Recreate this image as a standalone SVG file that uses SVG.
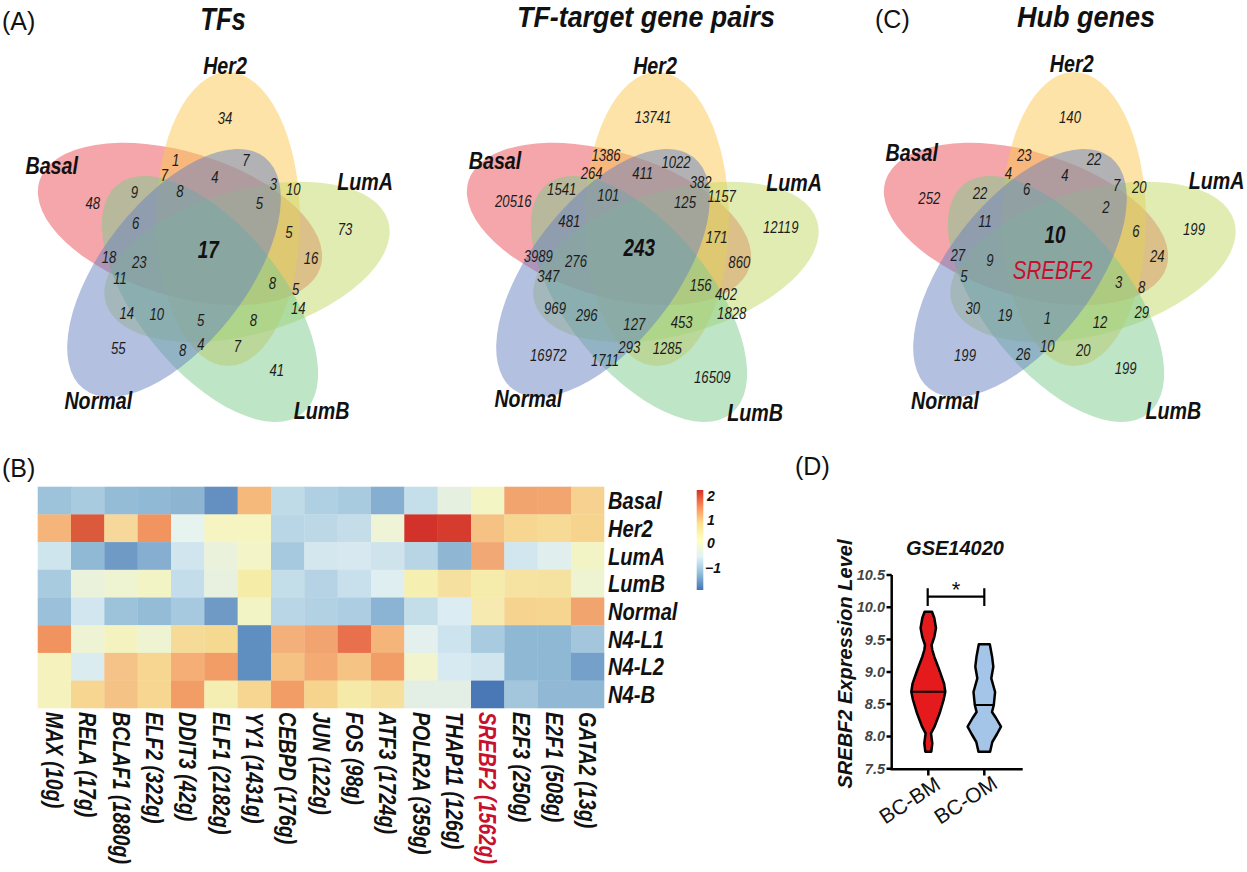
<svg xmlns="http://www.w3.org/2000/svg" width="1247" height="872" viewBox="0 0 1247 872">
<style>
text{font-family:"Liberation Sans",Arial,sans-serif;fill:#111}
.num{font-size:16px;font-style:italic;text-anchor:middle;fill:#1c1c1c}
.big{font-size:23px;font-weight:bold;font-style:italic;text-anchor:middle}
.lab{font-size:24px;font-weight:bold;font-style:italic;text-anchor:middle}
.ttl{font-size:30px;font-weight:bold;font-style:italic;text-anchor:middle}
.pl{font-size:25px}
.col{font-size:24px;font-weight:bold;font-style:italic}
.row{font-size:24px;font-weight:bold;font-style:italic}
.cbl{font-size:14px;font-weight:bold;font-style:italic}
.tk{font-size:14.5px;font-weight:bold;font-style:italic;text-anchor:end;fill:#444}
.ell ellipse{fill-opacity:.5;stroke:none}
.ax{stroke:#000;stroke-width:2.5;fill:none}
.vio{stroke:#000;stroke-width:2.5;stroke-linejoin:round}
</style>
<defs>
<g id="ells" class="ell">
<ellipse cx="180" cy="224" rx="147" ry="72" transform="rotate(17 180 224)" fill="#e94d55"/>
<ellipse cx="228" cy="219" rx="72" ry="147" fill="#fbc74f"/>
<ellipse cx="247" cy="262" rx="147" ry="72" transform="rotate(-16 247 262)" fill="#c3d967"/>
<ellipse cx="210" cy="299" rx="147" ry="72" transform="rotate(51 210 299)" fill="#7bcb8d"/>
<ellipse cx="174" cy="273" rx="147" ry="72" transform="rotate(-52 174 273)" fill="#6781c1"/>
</g>
<linearGradient id="cb" x1="0" y1="1" x2="0" y2="0">
<stop offset="0" stop-color="#4575b4"/><stop offset=".167" stop-color="#91bfdb"/><stop offset=".333" stop-color="#e0f3f8"/><stop offset=".5" stop-color="#ffffbf"/><stop offset=".667" stop-color="#fee090"/><stop offset=".833" stop-color="#fc8d59"/><stop offset="1" stop-color="#d73027"/>
</linearGradient>
</defs>
<rect width="1247" height="872" fill="#fff"/>

<!-- Panel labels -->
<text class="pl" x="2" y="30">(A)</text>
<text class="pl" x="875" y="28">(C)</text>
<text class="pl" x="2" y="477">(B)</text>
<text class="pl" x="795" y="475">(D)</text>

<!-- Venn A -->
<g id="vennA">
<use href="#ells"/>
<text class="ttl" transform="translate(223,30) scale(.8,1)" style="font-size:32px">TFs</text>
<text class="lab" transform="translate(225,73.6) scale(.82,1)">Her2</text>
<text class="lab" transform="translate(51.7,173.6) scale(.82,1)">Basal</text>
<text class="lab" transform="translate(365,190.3) scale(.82,1)">LumA</text>
<text class="lab" transform="translate(98.3,408.6) scale(.82,1)">Normal</text>
<text class="lab" transform="translate(321.7,418.6) scale(.82,1)">LumB</text>
<text class="num" transform="translate(225,124) scale(.82,1)">34</text>
<text class="num" transform="translate(175.7,166) scale(.82,1)">1</text>
<text class="num" transform="translate(246,166) scale(.82,1)">7</text>
<text class="num" transform="translate(164.3,181) scale(.82,1)">7</text>
<text class="num" transform="translate(215,182.7) scale(.82,1)">4</text>
<text class="num" transform="translate(273.3,190) scale(.82,1)">3</text>
<text class="num" transform="translate(293.3,195.3) scale(.82,1)">10</text>
<text class="num" transform="translate(134.3,197.7) scale(.82,1)">9</text>
<text class="num" transform="translate(180,197) scale(.82,1)">8</text>
<text class="num" transform="translate(92.7,208.7) scale(.82,1)">48</text>
<text class="num" transform="translate(259.3,209.3) scale(.82,1)">5</text>
<text class="num" transform="translate(135.7,228.7) scale(.82,1)">6</text>
<text class="num" transform="translate(345,235) scale(.82,1)">73</text>
<text class="num" transform="translate(289,238.3) scale(.82,1)">5</text>
<text class="big" transform="translate(208.3,257.5) scale(.82,1)">17</text>
<text class="num" transform="translate(109,262.7) scale(.82,1)">18</text>
<text class="num" transform="translate(139.3,268.3) scale(.82,1)">23</text>
<text class="num" transform="translate(311,263.7) scale(.82,1)">16</text>
<text class="num" transform="translate(120,283.7) scale(.82,1)">11</text>
<text class="num" transform="translate(272.3,288.7) scale(.82,1)">8</text>
<text class="num" transform="translate(295.7,295.3) scale(.82,1)">5</text>
<text class="num" transform="translate(298.3,314.3) scale(.82,1)">14</text>
<text class="num" transform="translate(126.7,319.3) scale(.82,1)">14</text>
<text class="num" transform="translate(156.7,320) scale(.82,1)">10</text>
<text class="num" transform="translate(200.7,326) scale(.82,1)">5</text>
<text class="num" transform="translate(253.3,326) scale(.82,1)">8</text>
<text class="num" transform="translate(118.3,354.3) scale(.82,1)">55</text>
<text class="num" transform="translate(182.7,356) scale(.82,1)">8</text>
<text class="num" transform="translate(201,350.3) scale(.82,1)">4</text>
<text class="num" transform="translate(237.3,352) scale(.82,1)">7</text>
<text class="num" transform="translate(276.7,376) scale(.82,1)">41</text>
</g>

<!-- Venn pairs -->
<g id="vennPairs">
<use href="#ells" x="429"/>
<text class="ttl" transform="translate(646,27) scale(.895,1)">TF-target gene pairs</text>
<text class="lab" transform="translate(655,73.6) scale(.82,1)">Her2</text>
<text class="lab" transform="translate(495,168.6) scale(.82,1)">Basal</text>
<text class="lab" transform="translate(794,190.6) scale(.82,1)">LumA</text>
<text class="lab" transform="translate(528.3,406.6) scale(.82,1)">Normal</text>
<text class="lab" transform="translate(755,420.6) scale(.82,1)">LumB</text>
<text class="num" transform="translate(653,123) scale(.82,1)">13741</text>
<text class="num" transform="translate(606,161) scale(.82,1)">1386</text>
<text class="num" transform="translate(676,168) scale(.82,1)">1022</text>
<text class="num" transform="translate(591.7,178.7) scale(.82,1)">264</text>
<text class="num" transform="translate(642.7,178.7) scale(.82,1)">411</text>
<text class="num" transform="translate(700.7,188) scale(.82,1)">382</text>
<text class="num" transform="translate(721.7,202) scale(.82,1)">1157</text>
<text class="num" transform="translate(561.7,195.3) scale(.82,1)">1541</text>
<text class="num" transform="translate(608.3,201) scale(.82,1)">101</text>
<text class="num" transform="translate(513.3,206.7) scale(.82,1)">20516</text>
<text class="num" transform="translate(685,207.7) scale(.82,1)">125</text>
<text class="num" transform="translate(569.3,226.7) scale(.82,1)">481</text>
<text class="num" transform="translate(780.7,233.3) scale(.82,1)">12119</text>
<text class="num" transform="translate(716.7,242.7) scale(.82,1)">171</text>
<text class="big" transform="translate(639.3,256.3) scale(.82,1)">243</text>
<text class="num" transform="translate(538.3,262) scale(.82,1)">3989</text>
<text class="num" transform="translate(576,266.7) scale(.82,1)">276</text>
<text class="num" transform="translate(739.3,267.7) scale(.82,1)">860</text>
<text class="num" transform="translate(548.3,282) scale(.82,1)">347</text>
<text class="num" transform="translate(700.7,291) scale(.82,1)">156</text>
<text class="num" transform="translate(726,300) scale(.82,1)">402</text>
<text class="num" transform="translate(731.7,318.7) scale(.82,1)">1828</text>
<text class="num" transform="translate(555,314.3) scale(.82,1)">969</text>
<text class="num" transform="translate(586.7,321) scale(.82,1)">296</text>
<text class="num" transform="translate(634.3,330) scale(.82,1)">127</text>
<text class="num" transform="translate(681.7,327.7) scale(.82,1)">453</text>
<text class="num" transform="translate(629.3,352.7) scale(.82,1)">293</text>
<text class="num" transform="translate(667.3,354.3) scale(.82,1)">1285</text>
<text class="num" transform="translate(548.3,361) scale(.82,1)">16972</text>
<text class="num" transform="translate(605,366) scale(.82,1)">1711</text>
<text class="num" transform="translate(712.3,382.7) scale(.82,1)">16509</text>
</g>

<!-- Venn hub -->
<g id="vennHub">
<use href="#ells" x="846"/>
<text class="ttl" transform="translate(1086,27) scale(.9,1)">Hub genes</text>
<text class="lab" transform="translate(1071.7,71.6) scale(.82,1)">Her2</text>
<text class="lab" transform="translate(911.7,160.6) scale(.82,1)">Basal</text>
<text class="lab" transform="translate(1216.7,188.6) scale(.82,1)">LumA</text>
<text class="lab" transform="translate(945,408.6) scale(.82,1)">Normal</text>
<text class="lab" transform="translate(1173.3,418.6) scale(.82,1)">LumB</text>
<text class="num" transform="translate(1070,123) scale(.82,1)">140</text>
<text class="num" transform="translate(1024.3,161) scale(.82,1)">23</text>
<text class="num" transform="translate(1094,165.3) scale(.82,1)">22</text>
<text class="num" transform="translate(1008.3,179.3) scale(.82,1)">4</text>
<text class="num" transform="translate(1065,181) scale(.82,1)">4</text>
<text class="num" transform="translate(1116.7,191) scale(.82,1)">7</text>
<text class="num" transform="translate(1139.3,193.3) scale(.82,1)">20</text>
<text class="num" transform="translate(980,198.7) scale(.82,1)">22</text>
<text class="num" transform="translate(1026.7,195.3) scale(.82,1)">6</text>
<text class="num" transform="translate(929.3,204.3) scale(.82,1)">252</text>
<text class="num" transform="translate(1106,213.3) scale(.82,1)">2</text>
<text class="num" transform="translate(985,226.7) scale(.82,1)">11</text>
<text class="num" transform="translate(1194,235.3) scale(.82,1)">199</text>
<text class="num" transform="translate(1136,236.7) scale(.82,1)">6</text>
<text class="big" transform="translate(1055,243) scale(.82,1)">10</text>
<text class="num" transform="translate(957.7,261) scale(.82,1)">27</text>
<text class="num" transform="translate(990,266) scale(.82,1)">9</text>
<text transform="translate(1052.7,279) scale(.82,1)" style="font-size:25px;font-style:italic;text-anchor:middle;fill:#c8102e">SREBF2</text>
<text class="num" transform="translate(1157.3,262) scale(.82,1)">24</text>
<text class="num" transform="translate(964,282) scale(.82,1)">5</text>
<text class="num" transform="translate(1118.7,287.7) scale(.82,1)">3</text>
<text class="num" transform="translate(1141.7,293.3) scale(.82,1)">8</text>
<text class="num" transform="translate(972.7,314.3) scale(.82,1)">30</text>
<text class="num" transform="translate(1005,321) scale(.82,1)">19</text>
<text class="num" transform="translate(1047.3,324.3) scale(.82,1)">1</text>
<text class="num" transform="translate(1100,327.7) scale(.82,1)">12</text>
<text class="num" transform="translate(1141.7,317.7) scale(.82,1)">29</text>
<text class="num" transform="translate(1047.3,352) scale(.82,1)">10</text>
<text class="num" transform="translate(1083.3,356) scale(.82,1)">20</text>
<text class="num" transform="translate(965,361) scale(.82,1)">199</text>
<text class="num" transform="translate(1023.3,360) scale(.82,1)">26</text>
<text class="num" transform="translate(1125.7,374.3) scale(.82,1)">199</text>
</g>

<!-- Heatmap -->
<g id="heatmap">
<g transform="translate(0,486.7)">
<rect x="37.7" width="33.6" height="28" fill="#9cc3da"/><rect x="71" width="33.6" height="28" fill="#a9cbe0"/><rect x="104.3" width="33.6" height="28" fill="#94bcd6"/><rect x="137.7" width="33.6" height="28" fill="#8fb9d4"/><rect x="171" width="33.6" height="28" fill="#8db5d1"/><rect x="204.3" width="33.6" height="28" fill="#6390c1"/><rect x="237.7" width="33.6" height="28" fill="#f5b97b"/><rect x="271" width="33.6" height="28" fill="#c0dbe8"/><rect x="304.3" width="33.6" height="28" fill="#afd0e3"/><rect x="337.7" width="33.6" height="28" fill="#a9cbe0"/><rect x="371" width="33.6" height="28" fill="#85aed0"/><rect x="404.3" width="33.6" height="28" fill="#c5dfea"/><rect x="437.7" width="33.6" height="28" fill="#e6f0e0"/><rect x="471" width="33.6" height="28" fill="#f3f5c5"/><rect x="504.3" width="33.6" height="28" fill="#f2a46f"/><rect x="537.7" width="33.6" height="28" fill="#f3a56f"/><rect x="571" width="33.3" height="28" fill="#f6d18f"/>
</g>
<g transform="translate(0,514.4)">
<rect x="37.7" width="33.6" height="28" fill="#f4b47a"/><rect x="71" width="33.6" height="28" fill="#dc5a3c"/><rect x="104.3" width="33.6" height="28" fill="#f6d89a"/><rect x="137.7" width="33.6" height="28" fill="#f1945f"/><rect x="171" width="33.6" height="28" fill="#e6f3ee"/><rect x="204.3" width="33.6" height="28" fill="#f6f4c1"/><rect x="237.7" width="33.6" height="28" fill="#f6f4c1"/><rect x="271" width="33.6" height="28" fill="#b9d6e6"/><rect x="304.3" width="33.6" height="28" fill="#bcd8e6"/><rect x="337.7" width="33.6" height="28" fill="#c4dde8"/><rect x="371" width="33.6" height="28" fill="#eef4d5"/><rect x="404.3" width="33.6" height="28" fill="#d2322a"/><rect x="437.7" width="33.6" height="28" fill="#d63c2e"/><rect x="471" width="33.6" height="28" fill="#f5c283"/><rect x="504.3" width="33.6" height="28" fill="#f6d690"/><rect x="537.7" width="33.6" height="28" fill="#f6da96"/><rect x="571" width="33.3" height="28" fill="#f6d48e"/>
</g>
<g transform="translate(0,542.1)">
<rect x="37.7" width="33.6" height="28" fill="#cfe5ee"/><rect x="71" width="33.6" height="28" fill="#90b9d5"/><rect x="104.3" width="33.6" height="28" fill="#6f9ac6"/><rect x="137.7" width="33.6" height="28" fill="#85aed1"/><rect x="171" width="33.6" height="28" fill="#d0e5ee"/><rect x="204.3" width="33.6" height="28" fill="#ebf2dc"/><rect x="237.7" width="33.6" height="28" fill="#f3f5c8"/><rect x="271" width="33.6" height="28" fill="#a7c9df"/><rect x="304.3" width="33.6" height="28" fill="#d4e7ef"/><rect x="337.7" width="33.6" height="28" fill="#d7e8f0"/><rect x="371" width="33.6" height="28" fill="#cfe3ed"/><rect x="404.3" width="33.6" height="28" fill="#b8d5e5"/><rect x="437.7" width="33.6" height="28" fill="#8fb7d4"/><rect x="471" width="33.6" height="28" fill="#f2a874"/><rect x="504.3" width="33.6" height="28" fill="#d2e6ef"/><rect x="537.7" width="33.6" height="28" fill="#e0eeee"/><rect x="571" width="33.3" height="28" fill="#f3f4c6"/>
</g>
<g transform="translate(0,569.8)">
<rect x="37.7" width="33.6" height="28" fill="#a9cbe0"/><rect x="71" width="33.6" height="28" fill="#eaf2dc"/><rect x="104.3" width="33.6" height="28" fill="#eef3d2"/><rect x="137.7" width="33.6" height="28" fill="#f3f4c6"/><rect x="171" width="33.6" height="28" fill="#c3ddea"/><rect x="204.3" width="33.6" height="28" fill="#e8f1e0"/><rect x="237.7" width="33.6" height="28" fill="#f5eca8"/><rect x="271" width="33.6" height="28" fill="#c3dde9"/><rect x="304.3" width="33.6" height="28" fill="#b5d3e4"/><rect x="337.7" width="33.6" height="28" fill="#c8e0eb"/><rect x="371" width="33.6" height="28" fill="#dfeef0"/><rect x="404.3" width="33.6" height="28" fill="#f5efb2"/><rect x="437.7" width="33.6" height="28" fill="#f6e0a0"/><rect x="471" width="33.6" height="28" fill="#f5ecac"/><rect x="504.3" width="33.6" height="28" fill="#f6e3a2"/><rect x="537.7" width="33.6" height="28" fill="#f5e2a0"/><rect x="571" width="33.3" height="28" fill="#eef3d2"/>
</g>
<g transform="translate(0,597.5)">
<rect x="37.7" width="33.6" height="28" fill="#9ac0da"/><rect x="71" width="33.6" height="28" fill="#d1e6ef"/><rect x="104.3" width="33.6" height="28" fill="#9dc3db"/><rect x="137.7" width="33.6" height="28" fill="#95bcd7"/><rect x="171" width="33.6" height="28" fill="#a7c9df"/><rect x="204.3" width="33.6" height="28" fill="#6f9ac6"/><rect x="237.7" width="33.6" height="28" fill="#f3f4c6"/><rect x="271" width="33.6" height="28" fill="#b9d6e6"/><rect x="304.3" width="33.6" height="28" fill="#b2d1e3"/><rect x="337.7" width="33.6" height="28" fill="#adcee2"/><rect x="371" width="33.6" height="28" fill="#8bb3d3"/><rect x="404.3" width="33.6" height="28" fill="#c3dde9"/><rect x="437.7" width="33.6" height="28" fill="#dbedf2"/><rect x="471" width="33.6" height="28" fill="#f6eab0"/><rect x="504.3" width="33.6" height="28" fill="#f6d490"/><rect x="537.7" width="33.6" height="28" fill="#f5d590"/><rect x="571" width="33.3" height="28" fill="#f2a46e"/>
</g>
<g transform="translate(0,625.2)">
<rect x="37.7" width="33.6" height="28" fill="#f1935f"/><rect x="71" width="33.6" height="28" fill="#eef3d4"/><rect x="104.3" width="33.6" height="28" fill="#f4f3bf"/><rect x="137.7" width="33.6" height="28" fill="#eef3d2"/><rect x="171" width="33.6" height="28" fill="#f6db98"/><rect x="204.3" width="33.6" height="28" fill="#f6d990"/><rect x="237.7" width="33.6" height="28" fill="#5f8ec0"/><rect x="271" width="33.6" height="28" fill="#f4b07a"/><rect x="304.3" width="33.6" height="28" fill="#f2a470"/><rect x="337.7" width="33.6" height="28" fill="#e8704d"/><rect x="371" width="33.6" height="28" fill="#f4b47a"/><rect x="404.3" width="33.6" height="28" fill="#e3f0ee"/><rect x="437.7" width="33.6" height="28" fill="#cde3ed"/><rect x="471" width="33.6" height="28" fill="#a9cbe0"/><rect x="504.3" width="33.6" height="28" fill="#8fb8d4"/><rect x="537.7" width="33.6" height="28" fill="#8fb8d4"/><rect x="571" width="33.3" height="28" fill="#a3c6dd"/>
</g>
<g transform="translate(0,652.9)">
<rect x="37.7" width="33.6" height="28" fill="#f5f2bd"/><rect x="71" width="33.6" height="28" fill="#dbecf0"/><rect x="104.3" width="33.6" height="28" fill="#f5c287"/><rect x="137.7" width="33.6" height="28" fill="#f6d690"/><rect x="171" width="33.6" height="28" fill="#f4ae76"/><rect x="204.3" width="33.6" height="28" fill="#f29d66"/><rect x="237.7" width="33.6" height="28" fill="#5f8ec0"/><rect x="271" width="33.6" height="28" fill="#f5c283"/><rect x="304.3" width="33.6" height="28" fill="#f3aa73"/><rect x="337.7" width="33.6" height="28" fill="#f5c485"/><rect x="371" width="33.6" height="28" fill="#f29d66"/><rect x="404.3" width="33.6" height="28" fill="#f1f4cd"/><rect x="437.7" width="33.6" height="28" fill="#d8eaf1"/><rect x="471" width="33.6" height="28" fill="#d0e5ee"/><rect x="504.3" width="33.6" height="28" fill="#8fb8d4"/><rect x="537.7" width="33.6" height="28" fill="#8fb8d4"/><rect x="571" width="33.3" height="28" fill="#74a0c9"/>
</g>
<g transform="translate(0,680.6)">
<rect x="37.7" width="33.6" height="27.7" fill="#f5f2bd"/><rect x="71" width="33.6" height="27.7" fill="#f6d690"/><rect x="104.3" width="33.6" height="27.7" fill="#f5c286"/><rect x="137.7" width="33.6" height="27.7" fill="#f6d690"/><rect x="171" width="33.6" height="27.7" fill="#f29d66"/><rect x="204.3" width="33.6" height="27.7" fill="#f5eeb2"/><rect x="237.7" width="33.6" height="27.7" fill="#f6d690"/><rect x="271" width="33.6" height="27.7" fill="#f29d66"/><rect x="304.3" width="33.6" height="27.7" fill="#f6d48e"/><rect x="337.7" width="33.6" height="27.7" fill="#f5eaa8"/><rect x="371" width="33.6" height="27.7" fill="#f6e09e"/><rect x="404.3" width="33.6" height="27.7" fill="#e3eee4"/><rect x="437.7" width="33.6" height="27.7" fill="#e3eee4"/><rect x="471" width="33.6" height="27.7" fill="#4a78b6"/><rect x="504.3" width="33.6" height="27.7" fill="#a3c6dd"/><rect x="537.7" width="33.6" height="27.7" fill="#91b9d5"/><rect x="571" width="33.3" height="27.7" fill="#91b9d5"/>
</g>
<text class="row" transform="translate(608,509) scale(.84,1)">Basal</text>
<text class="row" transform="translate(608,537) scale(.84,1)">Her2</text>
<text class="row" transform="translate(608,564.5) scale(.84,1)">LumA</text>
<text class="row" transform="translate(608,592) scale(.84,1)">LumB</text>
<text class="row" transform="translate(608,620) scale(.84,1)">Normal</text>
<text class="row" transform="translate(608,647.5) scale(.84,1)">N4-L1</text>
<text class="row" transform="translate(608,675) scale(.84,1)">N4-L2</text>
<text class="row" transform="translate(608,703) scale(.84,1)">N4-B</text>
<text class="col" transform="translate(45.8,712) rotate(90) scale(.82,1)">MAX (10g)</text>
<text class="col" transform="translate(79.1,712) rotate(90) scale(.82,1)">RELA (17g)</text>
<text class="col" transform="translate(112.5,712) rotate(90) scale(.82,1)">BCLAF1 (1880g)</text>
<text class="col" transform="translate(145.8,712) rotate(90) scale(.82,1)">ELF2 (322g)</text>
<text class="col" transform="translate(179.1,712) rotate(90) scale(.82,1)">DDIT3 (42g)</text>
<text class="col" transform="translate(212.5,712) rotate(90) scale(.82,1)">ELF1 (2182g)</text>
<text class="col" transform="translate(245.8,712) rotate(90) scale(.82,1)">YY1 (1431g)</text>
<text class="col" transform="translate(279.1,712) rotate(90) scale(.82,1)">CEBPD (176g)</text>
<text class="col" transform="translate(312.5,712) rotate(90) scale(.82,1)">JUN (122g)</text>
<text class="col" transform="translate(345.8,712) rotate(90) scale(.82,1)">FOS (98g)</text>
<text class="col" transform="translate(379.1,712) rotate(90) scale(.82,1)">ATF3 (1724g)</text>
<text class="col" transform="translate(412.5,712) rotate(90) scale(.82,1)">POLR2A (359g)</text>
<text class="col" transform="translate(445.8,712) rotate(90) scale(.82,1)">THAP11 (126g)</text>
<text class="col" transform="translate(479.1,712) rotate(90) scale(.82,1)" style="fill:#c8102e">SREBF2 (1562g)</text>
<text class="col" transform="translate(512.5,712) rotate(90) scale(.82,1)">E2F3 (250g)</text>
<text class="col" transform="translate(545.8,712) rotate(90) scale(.82,1)">E2F1 (508g)</text>
<text class="col" transform="translate(579.1,712) rotate(90) scale(.82,1)">GATA2 (13g)</text>
<rect x="696.7" y="490" width="6.6" height="100" fill="url(#cb)"/>
<text class="cbl" x="707" y="501">2</text>
<text class="cbl" x="707" y="525">1</text>
<text class="cbl" x="707" y="548">0</text>
<text class="cbl" x="705" y="573">−1</text>
</g>

<!-- Violin plot -->
<g id="violin">
<text transform="translate(955,555)" style="font-size:20px;font-weight:bold;font-style:italic;text-anchor:middle">GSE14020</text>
<text transform="translate(852,664) rotate(-90)" style="font-size:20px;font-weight:bold;font-style:italic;text-anchor:middle">SREBF2 Expression Level</text>
<path class="ax" d="M891.7 575V769.3H1022.7M886.5 575H891.7M886.5 607.3H891.7M886.5 639.6H891.7M886.5 671.9H891.7M886.5 704.1H891.7M886.5 736.4H891.7M886.5 768.7H891.7M928.3 769.3V775.5M984.3 769.3V775.5"/>
<text class="tk" x="885" y="580">10.5</text>
<text class="tk" x="885" y="612.3">10.0</text>
<text class="tk" x="885" y="644.6">9.5</text>
<text class="tk" x="885" y="676.9">9.0</text>
<text class="tk" x="885" y="709.1">8.5</text>
<text class="tk" x="885" y="741.4">8.0</text>
<text class="tk" x="885" y="773.7">7.5</text>
<polygon class="vio" fill="#e41a1c" points="932,611.7 934.3,618 936,628 934.3,637 931.6,645 932.3,650 934.3,656.7 939.3,670 944,683.3 945.3,691.7 943.6,700 939.6,713.3 934.5,726.7 931,733.3 932.3,743.3 931.3,751.7 925.3,751.7 924.3,743.3 925.6,733.3 922.1,726.7 917,713.3 913,700 911.3,691.7 912.6,683.3 917.3,670 922.3,656.7 924.3,650 925,645 922.3,637 920.6,628 922.3,618 924.6,611.7"/>
<line x1="911.3" y1="691.7" x2="945.3" y2="691.7" stroke="#000" stroke-width="2"/>
<polygon class="vio" fill="#a4c5e8" points="989.8,644.3 992.1,656.7 993.3,666.7 991.3,678.3 995.1,692 993.8,705 992,712 996,718 1001,726.7 997,734 992.3,742 990.1,751.7 978.5,751.7 976.3,742 971.6,734 967.6,726.7 972.6,718 976.6,712 974.8,705 973.5,692 977.3,678.3 975.3,666.7 976.5,656.7 978.8,644.3"/>
<line x1="974.8" y1="705" x2="993.8" y2="705" stroke="#000" stroke-width="2"/>
<path d="M927.7 588.3V606M927.7 596.7H984.3M984.3 588.3V606" stroke="#000" stroke-width="2.2" fill="none"/>
<text x="956" y="597" style="font-size:22px;text-anchor:middle">*</text>
<text transform="translate(942,788) rotate(-33)" style="font-size:21px;text-anchor:end">BC-BM</text>
<text transform="translate(999,787) rotate(-33)" style="font-size:21px;text-anchor:end">BC-OM</text>
</g>
</svg>
